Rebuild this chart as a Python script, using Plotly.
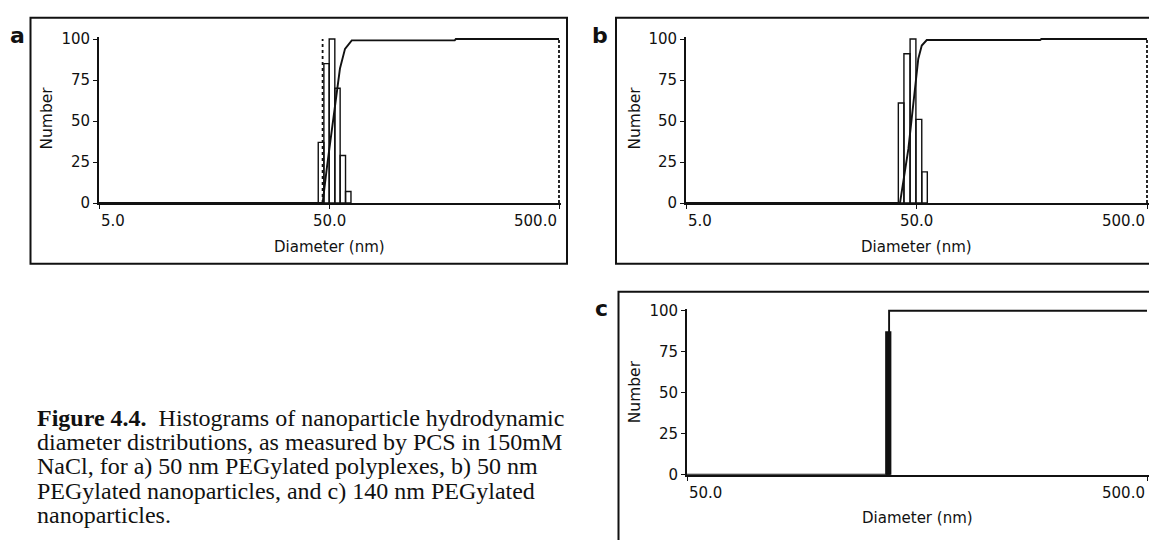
import plotly.graph_objects as go
import math

W, H = 1149, 540

# ---------------- data ----------------
# Panel a: histogram bin edges (nm) and heights (Number)
a_edges = [44.9, 47.5, 50.1, 53.0, 55.9, 59.0, 62.3]
a_heights = [37, 85, 100, 70, 29, 7]
a_cum_x = [5, 46.9, 49.0, 52.2, 54.0, 55.8, 58.7, 62.8, 176, 178, 500]
a_cum_y = [0, 0, 22, 51, 68, 82, 94, 99.2, 99.2, 100, 100]
a_cursor_lo = 46.9
a_cursor_hi = 500

# Panel b
b_edges = [41.7, 44.1, 46.9, 49.7, 52.7, 55.7]
b_heights = [61, 91, 100, 51, 19]
b_cum_x = [5, 42.4, 46.1, 49.3, 50.9, 52.7, 55.4, 172, 174, 500]
b_cum_y = [0, 0, 33, 68, 88, 96, 99.4, 99.4, 100, 100]
b_cursor_hi = 500

# Panel c
c_edges = [135.3, 138.6]
c_heights = [87]
c_cum_x = [50, 137.5, 137.5, 500]
c_cum_y = [0, 0, 100, 100]

y_ticks = [0, 25, 50, 75, 100]
ab_xticks = [5, 50, 500]
ab_xlabels = ["5.0", "50.0", "500.0"]
c_xticks = [50, 500]
c_xlabels = ["50.0", "500.0"]

caption_lines = [
    "<b>Figure 4.4.</b>\u00a0 Histograms of nanoparticle hydrodynamic",
    "diameter distributions, as measured by PCS in 150mM",
    "NaCl, for a) 50 nm PEGylated polyplexes, b) 50 nm",
    "PEGylated nanoparticles, and c) 140 nm PEGylated",
    "nanoparticles.",
]

# ---------------- helpers ----------------
def PX(px):
    return px / W

def PY(py):
    return 1 - py / H

SANS = "DejaVu Sans"
SERIF = "Liberation Serif, Times New Roman, serif"
BLACK = "#111111"
PAD = 2.0  # px of extra room so lines at 100 / 500 are not clipped

def bar_path(edges, heights):
    xs, ys = [], []
    for i, h in enumerate(heights):
        lo, hi = edges[i], edges[i + 1]
        xs += [lo, lo, hi, hi, lo, None]
        ys += [0, h, h, 0, 0, None]
    return xs, ys

fig = go.Figure()

panels = [
    ("a", "x", "y", a_edges, a_heights, a_cum_x, a_cum_y, [5, 500], "white"),
    ("b", "x2", "y2", b_edges, b_heights, b_cum_x, b_cum_y, [5, 500], "white"),
    ("c", "x3", "y3", c_edges, c_heights, c_cum_x, c_cum_y, [50, 500], BLACK),
]

for name, xa, ya, edges, heights, cx, cy, xr, fill in panels:
    bx, by = bar_path(edges, heights)
    fig.add_trace(go.Scatter(x=bx, y=by, xaxis=xa, yaxis=ya, mode="lines",
                             fill="toself", fillcolor=fill,
                             line=dict(color=BLACK, width=1.4),
                             showlegend=False, hoverinfo="skip"))
    fig.add_trace(go.Scatter(x=cx, y=cy, xaxis=xa, yaxis=ya, mode="lines",
                             line=dict(color=BLACK, width=1.9),
                             showlegend=False, hoverinfo="skip"))

# cursor lines
fig.add_trace(go.Scatter(x=[a_cursor_lo, a_cursor_lo], y=[0, 100], xaxis="x", yaxis="y",
                         mode="lines", line=dict(color=BLACK, width=1.8, dash="dot"),
                         showlegend=False, hoverinfo="skip"))
fig.add_trace(go.Scatter(x=[a_cursor_hi, a_cursor_hi], y=[0, 100], xaxis="x", yaxis="y",
                         mode="lines", line=dict(color=BLACK, width=1.8, dash="3px,2px"),
                         showlegend=False, hoverinfo="skip"))
fig.add_trace(go.Scatter(x=[b_cursor_hi, b_cursor_hi], y=[0, 100], xaxis="x2", yaxis="y2",
                         mode="lines", line=dict(color=BLACK, width=1.8, dash="3px,2px"),
                         showlegend=False, hoverinfo="skip"))

# axes geometry (pixels)
geo = {
    "a": dict(x0=99, x1=559, y0=202, y1=33),
    "b": dict(x0=686, x1=1147, y0=202, y1=33),
    "c": dict(x0=687, x1=1147, y0=482, y1=313),
}

axis_common = dict(showline=True, linecolor=BLACK, linewidth=1.8, showgrid=False,
                   zeroline=False, ticks="outside", tickcolor=BLACK, ticklen=4, tickwidth=1.4)

layout = dict(width=W, height=H, margin=dict(l=0, r=0, t=0, b=0),
              paper_bgcolor="white", plot_bgcolor="white", showlegend=False)

for i, (name, xa, ya, edges, heights, cx, cy, xr, fill) in enumerate(panels):
    g = geo[name]
    sfx = "" if i == 0 else str(i + 1)
    xt = ab_xticks if name != "c" else c_xticks
    lx0, lx1 = math.log10(xr[0]), math.log10(xr[1])
    px_per_log = (g["x1"] - g["x0"]) / (lx1 - lx0)
    px_per_y = (g["y0"] - g["y1"]) / 100.0
    layout["xaxis" + sfx] = dict(axis_common, type="log",
                                 range=[lx0, lx1 + PAD / px_per_log],
                                 domain=[PX(g["x0"]), min(1.0, PX(g["x1"] + PAD))],
                                 anchor="y" + sfx, tickvals=xt, showticklabels=False)
    layout["yaxis" + sfx] = dict(axis_common, range=[0, 100 + PAD / px_per_y],
                                 domain=[PY(g["y0"]), PY(g["y1"] - PAD)],
                                 anchor="x" + sfx, tickvals=y_ticks,
                                 tickfont=dict(family=SANS, size=15, color=BLACK))

fig.update_layout(**layout)

ann = []
for name, ticks, labels, xa in [("a", ab_xticks, ab_xlabels, "x"),
                                ("b", ab_xticks, ab_xlabels, "x2"),
                                ("c", c_xticks, c_xlabels, "x3")]:
    g = geo[name]
    for j, (t, lab) in enumerate(zip(ticks, labels)):
        if j == 0:
            anc = "left"
        elif j == len(ticks) - 1:
            anc = "right"
        else:
            anc = "center"
        ann.append(dict(x=math.log10(t), xref=xa, y=PY(g["y0"] + 19), yref="paper",
                        text=lab, showarrow=False, xanchor=anc, yanchor="middle",
                        font=dict(family=SANS, size=15, color=BLACK)))
    ann.append(dict(x=PX((g["x0"] + g["x1"]) / 2), xref="paper",
                    y=PY(g["y0"] + 45), yref="paper", text="Diameter (nm)",
                    showarrow=False, xanchor="center", yanchor="middle",
                    font=dict(family=SANS, size=15, color=BLACK)))

for xpx, ypx in [(47, 115), (635, 115), (635, 397)]:
    ann.append(dict(x=PX(xpx), xref="paper", y=PY(ypx), yref="paper", text="Number",
                    textangle=-90, showarrow=False, xanchor="center", yanchor="middle",
                    font=dict(family=SANS, size=15.5, color=BLACK)))

for lab, xpx, ypx in [("a", 17.5, 29.5), ("b", 600, 29.5), ("c", 601.5, 311)]:
    ann.append(dict(x=PX(xpx), xref="paper", y=PY(ypx), yref="paper", text="<b>%s</b>" % lab,
                    showarrow=False, xanchor="center", yanchor="middle",
                    font=dict(family=SANS, size=22, color=BLACK)))

# caption, one annotation per line (tight line spacing as in the reference)
for k, line in enumerate(caption_lines):
    ann.append(dict(x=PX(35), xref="paper", y=PY(423.5 + 25 * k), yref="paper", text=line,
                    showarrow=False, xanchor="left", yanchor="middle", align="left",
                    font=dict(family=SERIF, size=24, color=BLACK)))

fig.update_layout(annotations=ann)

shapes = []
for x0, y0, x1, y1 in [(30.5, 11, 567, 264.5), (616, 11, 1170, 264.5), (618.5, 293.5, 1170, 570)]:
    shapes.append(dict(type="rect", xref="paper", yref="paper",
                       x0=PX(x0), x1=PX(x1), y0=PY(y1), y1=PY(y0),
                       line=dict(color=BLACK, width=2), fillcolor="rgba(0,0,0,0)"))
fig.update_layout(shapes=shapes)

fig.write_html("out.html")
